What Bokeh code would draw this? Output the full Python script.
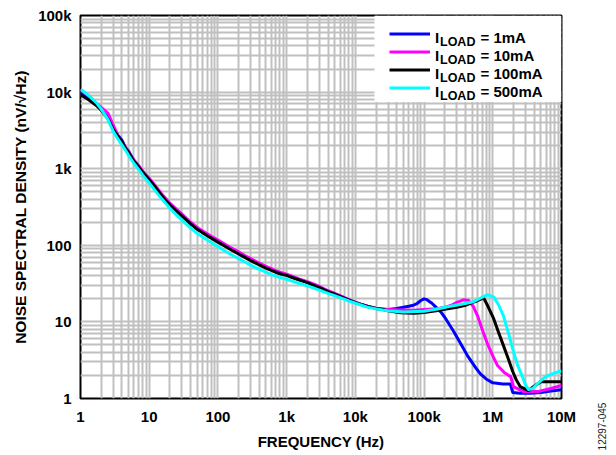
import math
from bokeh.plotting import figure
from bokeh.models import (FixedTicker, Legend, LegendItem, Label, ColumnDataSource,
                          BoxAnnotation)
from bokeh.core.properties import value
from bokeh.embed import file_html
from bokeh.resources import INLINE

# ---------------- data ----------------
freq_lo = [1, 1.3, 1.7, 2, 2.5, 3, 3.5, 4, 4.5, 5, 6, 7, 8, 9, 10, 12, 15, 20, 25, 30,
           40, 50, 60, 70, 80, 100, 120, 150, 200, 250, 300, 400, 500, 600, 700, 800,
           1000, 1200, 1500, 2000, 2500, 3000, 4000, 5000, 6000, 7000, 8000, 10000,
           12000, 15000, 20000, 25000]

nsd_lo_1ma = [9800, 8600, 7100, 6000, 4600, 3300, 2750, 2350, 1900, 1700, 1270, 1080, 920, 810,
              730, 600, 460, 340, 285, 245, 194, 165, 149, 136, 127, 112, 102, 91, 78.5, 70.5,
              64.5, 57, 51.5, 48, 45.5, 43.5, 41, 38.5, 36, 33, 30.5, 28.5, 25.2, 23.3, 21.7,
              20.5, 19.5, 18, 17, 16, 15, 14.7]
nsd_lo_10ma = [10800, 9000, 7200, 6300, 5300, 3700, 2700, 2200, 1900, 1650, 1300, 1100, 940, 830,
               750, 615, 475, 355, 295, 255, 200, 171, 154, 141, 131, 117, 106, 94, 82, 73,
               67, 58.5, 53, 49.5, 46.5, 44.5, 42, 39.5, 36.5, 33.5, 31, 29, 25.5, 23.5, 22,
               20.8, 19.6, 18, 17, 16, 15, 14.6]
nsd_lo_100ma = [9200, 8000, 6700, 5800, 4500, 3250, 2650, 2250, 1850, 1620, 1250, 1060, 900, 800,
                720, 590, 450, 335, 280, 240, 190, 162, 146, 133, 124, 110, 100, 89, 77, 69,
                63, 55.5, 50.5, 47, 44.5, 42.5, 40.5, 38, 35.5, 32.5, 30, 28, 24.8, 23, 21.5,
                20.3, 19.3, 17.8, 16.9, 15.9, 15, 14.5]
nsd_lo_500ma = [10900, 9100, 7300, 6000, 4400, 3050, 2450, 2050, 1750, 1500, 1170, 980, 830, 730,
                650, 530, 410, 305, 250, 213, 168, 143, 128, 117, 109, 96, 87, 77, 67, 60,
                55, 48.5, 44.5, 41.5, 39.5, 38, 36, 34, 32, 29.5, 27.5, 26, 23.5, 22, 20.7,
                19.7, 18.8, 17.5, 16.6, 15.6, 14.8, 14.3]

freq_hi_1ma = [30000, 40000, 50000, 60000, 70000, 80000, 90000, 100000, 110000, 130000, 150000,
               175000, 200000, 270000, 350000, 430000, 550000, 660000, 800000, 1000000,
               1400000, 1800000, 1950000, 2500000, 3500000, 5000000, 7000000, 10000000]
nsd_hi_1ma = [14.5, 15, 15.5, 16, 16.5, 17.5, 19, 20, 19.5, 17.5, 15.5,
              13.5, 11.5, 7.5, 5, 3.6, 2.6, 2.1, 1.8, 1.6,
              1.55, 1.55, 1.2, 1.17, 1.17, 1.2, 1.25, 1.3]

freq_hi_10ma = [30000, 50000, 70000, 100000, 150000, 200000, 250000, 300000, 376000, 445000,
                520000, 600000, 700000, 835000, 1000000, 1170000, 1500000, 1820000, 2000000,
                2800000, 4500000, 7000000, 10000000]
nsd_hi_10ma = [14.5, 14.3, 14.2, 14.5, 14.8, 15.5, 16.5, 18, 19.4, 19,
               16, 12, 8, 5.2, 3.6, 2.7, 2.15, 1.93, 1.43,
               1.23, 1.23, 1.35, 1.48]

freq_hi_100ma = [30000, 45000, 70000, 100000, 150000, 220000, 300000, 400000, 500000, 600000,
                 735000, 850000, 1030000, 1200000, 1430000, 1700000, 1950000, 2200000, 2500000,
                 3300000, 4000000, 5000000, 7000000, 10000000]
nsd_hi_100ma = [14, 13.2, 13, 13.3, 14, 14.8, 15.5, 16.5, 17.8, 18.9,
                20.6, 16, 11, 7.5, 4.9, 3.2, 2.25, 1.75, 1.43,
                1.27, 1.45, 1.66, 1.66, 1.66]

freq_hi_500ma = [30000, 50000, 100000, 150000, 220000, 350000, 525000, 700000, 835000, 1030000,
                 1200000, 1430000, 1700000, 2000000, 2300000, 2700000, 3000000, 3300000, 3800000,
                 4500000, 5500000, 6300000, 8000000, 10000000]
nsd_hi_500ma = [14, 13.5, 13.8, 14.6, 15.8, 17, 18.3, 21, 22.6, 21.2,
                17, 12, 7, 4.1, 2.7, 1.93, 1.5, 1.31, 1.35,
                1.57, 1.85, 1.99, 2.15, 2.3]

series_names = ["= 1mA", "= 10mA", "= 100mA", "= 500mA"]
series_colors = ["#0000FF", "#FF00FF", "#000000", "#00FFFF"]

x_ticks = [1, 10, 100, 1000, 10000, 100000, 1000000, 10000000]
x_labels = ["1", "10", "100", "1k", "10k", "100k", "1M", "10M"]
y_ticks = [1, 10, 100, 1000, 10000, 100000]
y_labels = ["1", "10", "100", "1k", "10k", "100k"]

figure_id = "12297-045"

# ---------------- layout ----------------
W, H = 612, 452
FL, FR, FT, FB = 80, 561, 15, 400   # frame edges in figure pixels
FONT = "Liberation Sans"
GRID = "#c0c0c0"

p = figure(width=W, height=H, x_axis_type="log", y_axis_type="log",
           x_range=(1, 1e7), y_range=(1, 1e5),
           output_backend="svg", toolbar_location=None,
           min_border_left=FL, min_border_right=W - FR,
           min_border_top=FT, min_border_bottom=H - FB)

x_minor = [m * 10 ** d for d in range(0, 7) for m in range(2, 10)]
y_minor = [m * 10 ** d for d in range(0, 5) for m in range(2, 10)]
p.xaxis.ticker = FixedTicker(ticks=x_ticks, minor_ticks=x_minor)
p.yaxis.ticker = FixedTicker(ticks=y_ticks, minor_ticks=y_minor)
p.xaxis.major_label_overrides = {t: l for t, l in zip(x_ticks, x_labels)}
p.yaxis.major_label_overrides = {t: l for t, l in zip(y_ticks, y_labels)}

for g in (p.xgrid, p.ygrid):
    g.grid_line_color = GRID
    g.grid_line_width = 2
    g.minor_grid_line_color = GRID
    g.minor_grid_line_width = 2

for ax in (p.xaxis, p.yaxis):
    ax.axis_line_color = None
    ax.major_tick_line_color = None
    ax.minor_tick_line_color = None
    ax.major_tick_out = 0
    ax.minor_tick_out = 0
    ax.major_tick_in = 0
    ax.minor_tick_in = 0
    ax.major_label_text_font = FONT
    ax.major_label_text_font_style = "bold"
    ax.major_label_text_font_size = "15px"
    ax.major_label_text_color = "black"
    ax.axis_label_text_font = FONT
    ax.axis_label_text_font_style = "bold"
    ax.axis_label_text_color = "black"

p.xaxis.axis_label = "FREQUENCY (Hz)"
p.yaxis.axis_label = "NOISE SPECTRAL DENSITY (nV/\u221aHz)"
p.xaxis.axis_label_text_font_size = "15px"
p.yaxis.axis_label_text_font_size = "15.5px"
p.xaxis.major_label_standoff = 9
p.xaxis.axis_label_standoff = 5
p.yaxis.major_label_standoff = 9
p.yaxis.axis_label_standoff = 6

p.outline_line_color = "black"
p.outline_line_width = 2
p.outline_line_alpha = 1
p.background_fill_color = "white"
p.border_fill_color = "white"

freqs = [freq_lo + freq_hi_1ma, freq_lo + freq_hi_10ma, freq_lo + freq_hi_100ma, freq_lo + freq_hi_500ma]
vals = [nsd_lo_1ma + nsd_hi_1ma, nsd_lo_10ma + nsd_hi_10ma, nsd_lo_100ma + nsd_hi_100ma, nsd_lo_500ma + nsd_hi_500ma]

renderers = []
for f, v, c in zip(freqs, vals, series_colors):
    src = ColumnDataSource(dict(f=f, v=v))
    r = p.line("f", "v", source=src, line_color=c, line_width=3, line_join="round")
    renderers.append(r)

# helpers: figure pixel -> data coordinates
def dx(px):
    return 10 ** ((px - FL) / ((FR - FL) / 7))

def dy(py):
    return 10 ** ((FB - py) / ((FB - FT) / 5))

# white legend panel
p.add_layout(BoxAnnotation(left=dx(374), right=dx(FR), top=dy(FT), bottom=dy(102),
                           fill_color="white", fill_alpha=1, line_color=None))

legend = Legend(items=[LegendItem(label=value(" "), renderers=[r]) for r in renderers],
                location="top_right", margin=10, padding=0, spacing=1,
                glyph_width=41, glyph_height=17, label_height=17,
                label_width=116, label_standoff=5,
                border_line_color=None, background_fill_alpha=0,
                label_text_font_size="10px")
p.add_layout(legend)

for i, name in enumerate(series_names):
    c = 33.5 + i * 18
    p.add_layout(Label(x=dx(434.5), y=dy(c + 4), text="I", text_font=FONT,
                       text_font_style="bold", text_font_size="15px", level="overlay",
                       text_baseline="alphabetic", text_align="left", text_color="black"))
    p.add_layout(Label(x=dx(439.5), y=dy(c + 8), text="LOAD", text_font=FONT,
                       text_font_style="bold", text_font_size="12.5px", level="overlay",
                       text_baseline="alphabetic", text_align="left", text_color="black"))
    p.add_layout(Label(x=dx(480), y=dy(c + 4), text=name, text_font=FONT,
                       text_font_style="bold", text_font_size="15px", level="overlay",
                       text_baseline="alphabetic", text_align="left", text_color="black"))

# figure number, written vertically in the right-hand margin
p.add_layout(Label(x=40, y=-28, x_units="screen", y_units="screen", text=figure_id,
                   angle=math.pi / 2, text_font=FONT, text_font_size="10px",
                   text_align="center", text_baseline="middle", text_color="#222222"),
             "right")

open("out.html", "w").write(file_html(p, INLINE))
